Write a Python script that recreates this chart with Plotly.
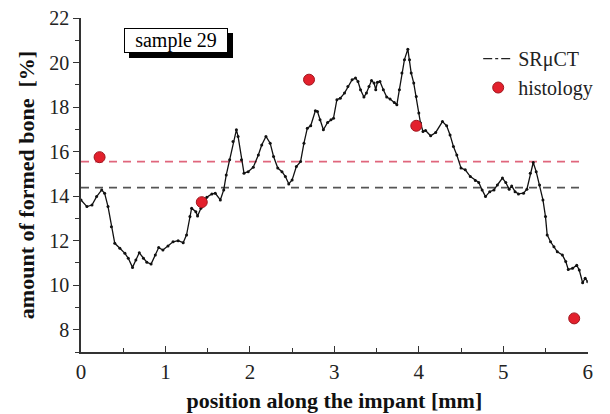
import plotly.graph_objects as go

# ---- data ----
position_mm = [0.00, 0.07, 0.13, 0.185, 0.245, 0.28, 0.32, 0.36, 0.40, 0.46, 0.52, 0.56, 0.61, 0.65, 0.69,
               0.74, 0.78, 0.83, 0.88, 0.92, 0.97, 1.03, 1.09, 1.15, 1.21, 1.25, 1.29, 1.31, 1.36, 1.38,
               1.42, 1.49, 1.55, 1.59, 1.65, 1.69, 1.72, 1.76, 1.80, 1.84, 1.86, 1.90, 1.93, 1.98, 2.04,
               2.10, 2.14, 2.19, 2.24, 2.28, 2.33, 2.38, 2.42, 2.46, 2.50, 2.55, 2.60, 2.64, 2.68, 2.72,
               2.775, 2.80, 2.83, 2.87, 2.92, 2.96, 2.99, 3.03, 3.07, 3.12, 3.16, 3.21, 3.25, 3.28, 3.31,
               3.35, 3.38, 3.41, 3.44, 3.47, 3.49, 3.51, 3.54, 3.58, 3.62, 3.66, 3.71, 3.74, 3.77, 3.80,
               3.83, 3.87, 3.89, 3.91, 3.94, 3.97, 4.00, 4.02, 4.05, 4.08, 4.14, 4.20, 4.28, 4.33, 4.37,
               4.41, 4.45, 4.50, 4.55, 4.61, 4.67, 4.71, 4.75, 4.79, 4.84, 4.89, 4.93, 4.99, 5.03, 5.07,
               5.10, 5.14, 5.18, 5.24, 5.28, 5.32, 5.355, 5.39, 5.43, 5.47, 5.50, 5.52, 5.56, 5.60, 5.64,
               5.70, 5.74, 5.77, 5.82, 5.87, 5.90, 5.94, 5.97, 6.00]
srmct_bone = [13.83, 13.53, 13.60, 13.98, 14.28, 14.13, 13.53, 12.63, 11.88, 11.66, 11.43, 11.21, 10.80, 11.13, 11.46,
              11.21, 11.03, 10.95, 11.36, 11.69, 11.58, 11.76, 11.95, 12.00, 11.91, 12.26, 13.08, 13.46, 13.30, 13.11,
              13.46, 13.95, 14.10, 14.13, 13.83, 14.28, 14.95, 15.63, 16.45, 16.98, 16.68, 15.63, 15.03, 15.10, 15.30,
              15.85, 16.30, 16.68, 16.38, 15.78, 15.26, 15.10, 14.88, 14.55, 14.73, 15.33, 15.55, 16.38, 17.05, 17.16,
              17.83, 17.80, 17.43, 16.98, 17.31, 17.43, 17.50, 18.33, 18.40, 18.63, 18.92, 19.23, 19.30, 19.15, 18.78,
              18.45, 18.63, 18.92, 19.19, 19.08, 18.78, 19.11, 19.15, 18.78, 18.45, 18.36, 18.20, 18.10, 18.78, 19.53,
              20.13, 20.60, 20.13, 19.53, 19.08, 18.48, 17.73, 17.28, 16.90, 16.95, 16.71, 16.86, 17.35, 17.16, 16.75,
              16.23, 15.85, 15.26, 15.18, 14.88, 14.70, 14.61, 14.28, 13.98, 14.20, 14.28, 14.50, 14.81, 14.61, 14.31,
              14.46, 14.20, 14.10, 14.13, 14.31, 15.03, 15.51, 15.10, 14.50, 13.83, 13.08, 12.26, 11.95, 11.73, 11.50,
              11.36, 11.06, 10.71, 10.76, 10.90, 10.68, 10.11, 10.31, 10.16]

histology_pos = [0.22, 1.43, 2.70, 3.97, 5.84]
histology_bone = [15.75, 13.73, 19.23, 17.16, 8.51]

srmct_mean = 14.38
histology_mean = 15.55
mean_line_x = [0.0, 5.9]

x_ticks = [0, 1, 2, 3, 4, 5, 6]
y_ticks = [8, 10, 12, 14, 16, 18, 20, 22]

SERIF = "Liberation Serif"

fig = go.Figure()

# mean lines
fig.add_trace(go.Scatter(x=mean_line_x, y=[histology_mean] * 2, mode="lines",
                         line=dict(color="#e0667c", width=1.6, dash="8px,6px"),
                         showlegend=False, hoverinfo="skip"))
fig.add_trace(go.Scatter(x=mean_line_x, y=[srmct_mean] * 2, mode="lines",
                         line=dict(color="#555555", width=1.6, dash="8px,6px"),
                         showlegend=False, hoverinfo="skip"))

# SRuCT profile
fig.add_trace(go.Scatter(x=position_mm, y=srmct_bone, mode="lines+markers",
                         line=dict(color="#111111", width=1.3),
                         marker=dict(color="#111111", size=3),
                         showlegend=False))
# legend entry for SRuCT (dash-dot sample)
fig.add_trace(go.Scatter(x=[None], y=[None], mode="lines",
                         line=dict(color="#222222", width=1.2, dash="dashdot"),
                         name="SR\u03bcCT"))

# histology
fig.add_trace(go.Scatter(x=histology_pos, y=histology_bone, mode="markers",
                         marker=dict(color="#e3202c", size=11,
                                     line=dict(color="#a01820", width=1)),
                         name="histology"))

# sample label with shadow (shadow box carries no text)
for shadow in (True, False):
    fig.add_annotation(
        x=0.182, y=0.934, xref="paper", yref="paper",
        xanchor="center", yanchor="middle",
        text="\u00a0" if shadow else "sample 29", showarrow=False,
        font=dict(family=SERIF, size=20, color="black"),
        bgcolor="black" if shadow else "white",
        bordercolor="black", borderwidth=1,
        width=102, height=23, borderpad=0,
        xshift=5 if shadow else 0, yshift=-5 if shadow else 0,
    )

fig.update_layout(
    width=610, height=414,
    margin=dict(l=81, r=0, t=18, b=62),
    paper_bgcolor="white", plot_bgcolor="white",
    font=dict(family=SERIF, size=20, color="#222222"),
    legend=dict(x=0.758, y=0.937, xanchor="left", yanchor="top",
                font=dict(family=SERIF, size=20, color="#222222"),
                bgcolor="rgba(0,0,0,0)", tracegroupgap=0, itemwidth=30),
    xaxis=dict(
        domain=[0, 0.967],
        range=[0, 6], tickvals=x_ticks, ticks="inside", ticklen=6, tickwidth=1.3,
        tickcolor="#333", showline=True, linecolor="#333", linewidth=1.5,
        showgrid=False, zeroline=False,
        minor=dict(dtick=0.5, ticks="inside", ticklen=4, tickcolor="#333", showgrid=False),
        tickfont=dict(family=SERIF, size=21),
        title=dict(text="<b>position along the impant [mm]</b>",
                   font=dict(family=SERIF, size=22, color="#111"), standoff=10),
    ),
    yaxis=dict(
        range=[7, 22], tickvals=y_ticks, ticks="outside", ticklen=6, tickwidth=1.3,
        tickcolor="#333", showline=True, linecolor="#333", linewidth=1.5,
        showgrid=False, zeroline=False,
        minor=dict(dtick=1, ticks="outside", ticklen=4, tickcolor="#333", showgrid=False),
        tickfont=dict(family=SERIF, size=20),
        title=dict(text="<b>amount of formed bone  [%]</b>",
                   font=dict(family=SERIF, size=22, color="#111"), standoff=9),
    ),
)

fig.write_html("out.html")
